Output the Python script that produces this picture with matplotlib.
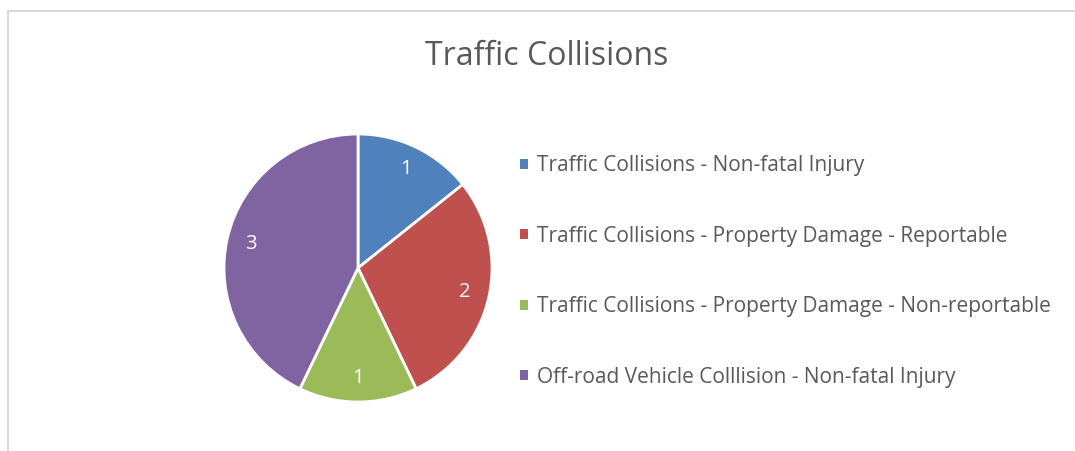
import matplotlib
matplotlib.use("Agg")
import matplotlib.pyplot as plt
from matplotlib.patches import Patch
from matplotlib.lines import Line2D

title = "Traffic Collisions"
categories = [
    "Traffic Collisions - Non-fatal Injury",
    "Traffic Collisions - Property Damage - Reportable",
    "Traffic Collisions - Property Damage - Non-reportable",
    "Off-road Vehicle Colllision - Non-fatal Injury",
]
values = [1, 2, 1, 3]
colors = ["#4f81bd", "#c0504d", "#9bbb59", "#8064a2"]

FONT = "Open Sans"
TEXT = "#595959"
W, H = 1075, 451

fig = plt.figure(figsize=(W / 100, H / 100), dpi=100)
fig.patch.set_facecolor("white")

# chart area border (top and left visible)
fig.add_artist(Line2D([7.5 / W, 1], [1 - 10.5 / H, 1 - 10.5 / H],
                      transform=fig.transFigure, color="#d9d9d9", lw=1.5))
fig.add_artist(Line2D([7.5 / W, 7.5 / W], [0, 1 - 10.5 / H],
                      transform=fig.transFigure, color="#d9d9d9", lw=1.5))

cx, cy, r = 358, 268, 134
ax = fig.add_axes([(cx - r) / W, 1 - (cy + r) / H, 2 * r / W, 2 * r / H])
total = sum(values)
wedges, texts, autotexts = ax.pie(
    values, colors=colors, startangle=90, counterclock=False,
    autopct=lambda p: f"{round(p * total / 100):d}", pctdistance=0.82,
    wedgeprops=dict(edgecolor="white", linewidth=2),
    textprops=dict(color="white", fontsize=14.5, fontfamily=FONT),
)
ax.set_xlim(-1.0, 1.0)
ax.set_ylim(-1.0, 1.0)
ax.set_aspect("equal")
ax.axis("off")

fig.text(547 / W, 1 - 65 / H, title, ha="center", va="baseline",
         fontsize=23, color=TEXT, fontfamily=FONT)

handles = [Patch(facecolor=c, edgecolor="none") for c in colors]
leg = fig.legend(handles, categories, loc="center left",
                 bbox_to_anchor=(520 / W, 1 - 271.5 / H),
                 frameon=False, borderpad=0, borderaxespad=0,
                 handlelength=0.38, handleheight=0.38,
                 handletextpad=0.43, labelspacing=2.37,
                 prop=dict(family=FONT, size=15))
for t in leg.get_texts():
    t.set_color(TEXT)

fig.savefig("out.png", dpi=100, facecolor="white")
